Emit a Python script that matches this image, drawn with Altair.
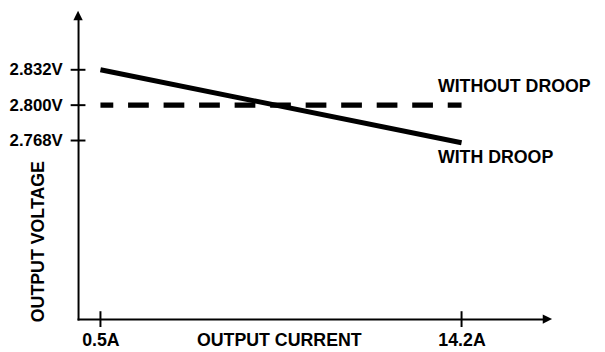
import altair as alt
import pandas as pd

# ---- data ----
current_ticks = [0.5, 14.2]            # A
voltage_ticks = [2.768, 2.800, 2.832]  # V
current = [0.5, 14.2]
with_droop = [2.832, 2.766]
without_droop = [2.800, 2.800]

# ---- scale setup ----
X_DOMAIN = [-0.35, 17.28]
Y_DOMAIN = [2.6064, 2.8769]

FONT = "Liberation Sans"
FS = 18
FS_Y = 17
BLACK = "#000000"

lines = pd.DataFrame({
    "current": current + current,
    "voltage": with_droop + without_droop,
    "series": ["WITH DROOP"] * 2 + ["WITHOUT DROOP"] * 2,
})
yticks = pd.DataFrame({"current": [X_DOMAIN[0]] * len(voltage_ticks), "voltage": voltage_ticks})
xticks = pd.DataFrame({"current": current_ticks, "voltage": [Y_DOMAIN[0]] * len(current_ticks)})
yarrow = pd.DataFrame({"current": [X_DOMAIN[0]], "voltage": [Y_DOMAIN[1]]})
xarrow = pd.DataFrame({"current": [X_DOMAIN[1]], "voltage": [Y_DOMAIN[0]]})
ends = pd.DataFrame({"current": [current[-1], current[-1]],
                     "voltage": [without_droop[-1], with_droop[-1]],
                     "label": ["WITHOUT DROOP", "WITH DROOP"]})

x_enc = alt.X(
    "current:Q",
    scale=alt.Scale(domain=X_DOMAIN, nice=False, zero=False),
    axis=alt.Axis(
        values=current_ticks, format=".1f", labelExpr="datum.label + 'A'",
        ticks=False, tickSize=0, grid=False,
        domainColor=BLACK, domainWidth=2, domainCap="square",
        labelFont=FONT, labelFontWeight="bold", labelFontSize=FS, labelColor=BLACK,
        labelBaseline="alphabetic", labelPadding=27, labelAlign="center",
        title="OUTPUT CURRENT", titleFont=FONT, titleFontWeight="bold",
        titleFontSize=FS, titleColor=BLACK, titleX=203.5, titleY=27,
        titleBaseline="alphabetic", titleAlign="center", titleAngle=0,
    ),
)
y_enc = alt.Y(
    "voltage:Q",
    scale=alt.Scale(domain=Y_DOMAIN, nice=False, zero=False),
    axis=alt.Axis(
        values=voltage_ticks, format=".3f", labelExpr="datum.label + 'V'",
        ticks=False, tickSize=0, grid=False,
        domainColor=BLACK, domainWidth=2, domainCap="square",
        labelFont=FONT, labelFontWeight="bold", labelFontSize=FS_Y, labelColor=BLACK,
        labelBaseline="middle", labelPadding=16, labelAlign="right",
        title="OUTPUT VOLTAGE", titleFont=FONT, titleFontWeight="bold",
        titleFontSize=FS, titleColor=BLACK, titleX=-35, titleY=224,
        titleBaseline="alphabetic", titleAlign="center", titleAngle=270,
    ),
)

solid = alt.Chart(lines).transform_filter(alt.datum.series == "WITH DROOP").mark_line(
    color=BLACK, strokeWidth=5, strokeCap="butt"
).encode(x=x_enc, y=y_enc)

dashed = alt.Chart(lines).transform_filter(alt.datum.series == "WITHOUT DROOP").mark_line(
    color=BLACK, strokeWidth=5.5, strokeCap="butt", strokeDash=[21, 15], strokeDashOffset=8
).encode(x=x_enc, y=y_enc)

ytick_layer = alt.Chart(yticks).mark_tick(
    orient="horizontal", size=15, thickness=2, color=BLACK, opacity=1
).encode(x=x_enc, y=y_enc)

xtick_layer = alt.Chart(xticks).mark_tick(
    orient="vertical", size=16, thickness=2, color=BLACK, opacity=1
).encode(x=x_enc, y=y_enc)

yarrow_layer = alt.Chart(yarrow).mark_point(
    shape="M0,-2L1,0L-1,0Z", size=90, filled=True, color=BLACK, opacity=1, strokeWidth=0
).encode(x=x_enc, y=y_enc)

xarrow_layer = alt.Chart(xarrow).mark_point(
    shape="M2,0L0,-1L0,1Z", size=90, filled=True, color=BLACK, opacity=1, strokeWidth=0
).encode(x=x_enc, y=y_enc)

lab_without = alt.Chart(ends).transform_filter(alt.datum.label == "WITHOUT DROOP").mark_text(
    font=FONT, fontWeight="bold", fontSize=FS, color=BLACK,
    align="left", baseline="alphabetic", dx=-24, dy=-13
).encode(x=x_enc, y=y_enc, text="label:N")

lab_with = alt.Chart(ends).transform_filter(alt.datum.label == "WITH DROOP").mark_text(
    font=FONT, fontWeight="bold", fontSize=FS, color=BLACK,
    align="left", baseline="alphabetic", dx=-24, dy=21
).encode(x=x_enc, y=y_enc, text="label:N")

chart = alt.layer(
    solid, dashed, ytick_layer, xtick_layer, yarrow_layer, xarrow_layer, lab_without, lab_with
).properties(
    width=471, height=303,
    autosize=alt.AutoSizeParams(type="none"),
    padding={"left": 71, "top": 10, "right": 55, "bottom": 31},
    background="white",
).configure_view(stroke=None)

chart.save("out.html", embed_options={"renderer": "svg", "actions": False})
